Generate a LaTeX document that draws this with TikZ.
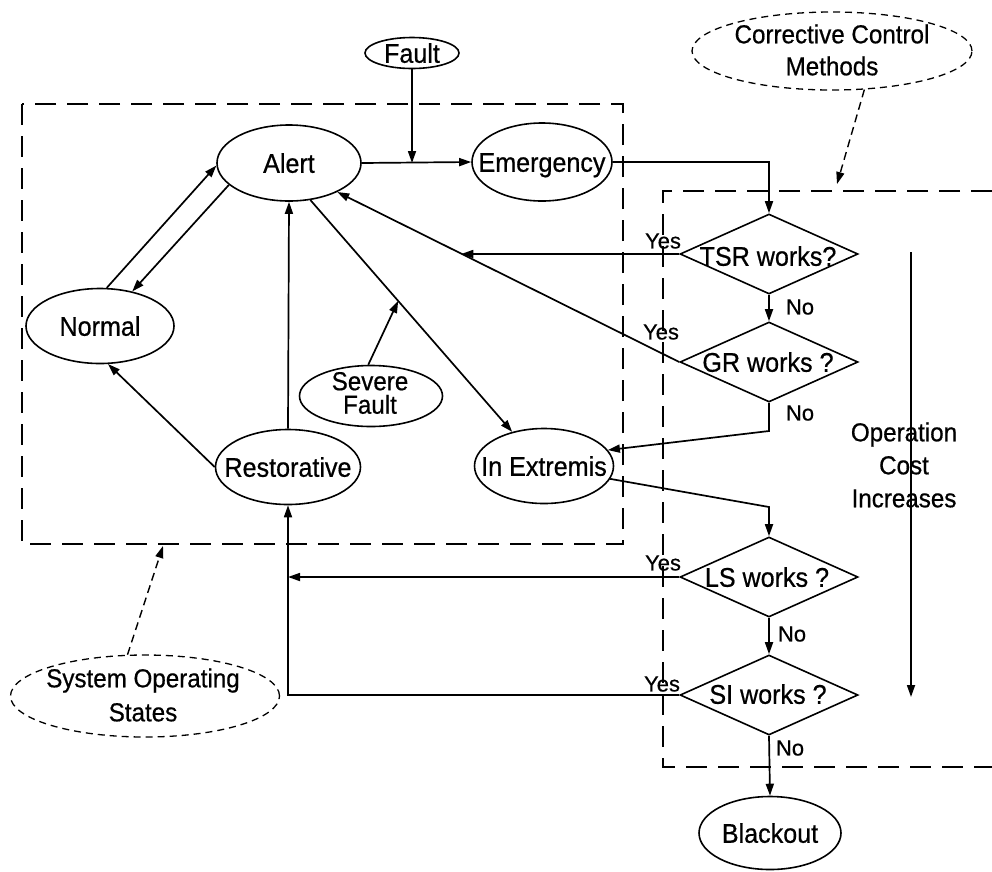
\documentclass[tikz,border=0pt]{standalone}
\usepackage{fontspec}
\setmainfont{Liberation Sans}[FakeStretch=0.93,FakeBold=0.6]
\newfontfamily\lblfont{Liberation Sans}[FakeBold=0.5]
\usetikzlibrary{shapes.geometric,arrows.meta,calc}
\begin{document}
\begin{tikzpicture}[x=1pt,y=-1pt,
  every node/.style={font=\fontsize{27}{30}\selectfont},
  every label/.style={text height=19.5pt,text depth=0pt,inner sep=0pt},
  stell/.style={ellipse,draw,line width=1.6pt,inner sep=0pt},
  dell/.style={ellipse,draw,line width=1.3pt,dash pattern=on 7pt off 5pt,inner sep=0pt},
  dec/.style={diamond,draw,line width=1.6pt,inner sep=0pt,minimum width=178pt,minimum height=80pt},
  dtext/.style={text height=19.5pt,text depth=0pt,inner sep=0pt},
  conn/.style={line width=1.7pt,-{Triangle[length=12pt,width=8pt]}},
  dbox/.style={line width=2.2pt,dash pattern=on 21pt off 11pt},
  darr/.style={line width=1.4pt,dash pattern=on 8pt off 5pt,-{Triangle[length=12pt,width=8pt]}},
  lbl/.style={font=\lblfont\fontsize{22}{24}\selectfont,inner sep=0pt},
  multi/.style={align=center,inner sep=0pt},
]
\useasboundingbox (0,0) rectangle (992,871);

% dashed group boxes
\draw[dbox] (22,104) rectangle (623,544);
\draw[dbox] (992,191) -- (663,191) -- (663,767) -- (992,767);

% state ellipses
\node[stell,minimum width=94pt,minimum height=31pt,label=center:{Fault}] (fault) at (412,53) {};
\node[stell,minimum width=144pt,minimum height=76pt,label=center:{Alert}] (alert) at (289,163) {};
\node[stell,minimum width=140pt,minimum height=78pt,label=center:{Emergency}] (emergency) at (542,162) {};
\node[stell,minimum width=148pt,minimum height=75pt,label=center:{Normal}] (normal) at (100,326) {};
\node[stell,minimum width=143pt,minimum height=61pt] (severe) at (371,396) {};
\node[multi,font=\fontsize{26}{23.5}\selectfont] (severet) at (370,393) {Severe\\Fault};
\node[stell,minimum width=145pt,minimum height=75pt,label=center:{Restorative}] (restorative) at (288,467) {};
\node[stell,minimum width=139pt,minimum height=75pt,label=center:{In Extremis}] (inext) at (544,466) {};
\node[stell,minimum width=142pt,minimum height=73pt,label=center:{Blackout}] (blackout) at (770,833) {};

% annotation ellipses
\node[dell,minimum width=280pt,minimum height=78pt] (ccm) at (832,51) {};
\node[multi,font=\fontsize{26}{32}\selectfont] (ccmt) at (832,50) {Corrective Control\\Methods};
\node[dell,minimum width=269pt,minimum height=82pt] (sos) at (145,696) {};
\node[multi,font=\fontsize{26}{34}\selectfont] (sost) at (143,695) {System Operating\\States};

% decisions
\node[dec] (tsr) at (769,254) {};
\node[dtext] (tsrt) at (768,256) {TSR works?};
\node[dec] (gr) at (769,362) {};
\node[dtext] (grt) at (768,362) {GR works ?};
\node[dec] (ls) at (769,577) {};
\node[dtext] (lst) at (767,577) {LS works ?};
\node[dec] (si) at (769,695) {};
\node[dtext] (sit) at (768,694) {SI works ?};

% Yes / No labels
\node[lbl] (y1) at (663,241) {Yes};
\node[lbl] (y2) at (661,332) {Yes};
\node[lbl] (y3) at (663,563) {Yes};
\node[lbl] (y4) at (662,684) {Yes};
\node[lbl] (n1) at (800,307) {No};
\node[lbl] (n2) at (800,413) {No};
\node[lbl] (n3) at (792,634) {No};
\node[lbl] (n4) at (790,748) {No};

% operation cost
\node[multi,font=\fontsize{26}{33}\selectfont] (opc) at (904,465) {Operation\\Cost\\Increases};
\coordinate (oc1) at (911,252);
\coordinate (oc2) at (911,697);
\draw[conn] (oc1) -- (oc2);

% connectors inside state box
\draw[conn] (normal.80) -- (alert.182);
\draw[conn] (alert.200) -- (normal.47);
\draw[conn] (restorative.north) -- (alert.south);
\draw[conn] (restorative.west) -- (normal.-78);
\draw[conn] (alert.east) -- (emergency.west);
\coordinate (fj) at (fault.south |- alert.east);
\draw[conn] (fault.south) -- (fj);
\draw[conn] (alert.-60) -- coordinate[pos=0.435] (sfj) (inext.133);
\draw[conn] (severe.95) -- (sfj);

% corrective control flow
\draw[conn] (emergency.east) -| (tsr.north);
\draw[conn] (gr.west) -- coordinate[pos=0.6375] (tj) (alert.-31);
\draw[conn] (tsr.west) -- (tsr.west -| tj);
\draw[conn] (tsr.south) -- (gr.north);
\coordinate (grb) at (769,431);
\draw[conn] (gr.south) -- (grb) -- (inext.14);
\coordinate (ieb) at (769,507);
\draw[conn] (inext.-11) -- (ieb) -- (ls.north);
\draw[conn] (ls.south) -- (si.north);
\draw[conn] (si.south) -- (blackout.north);
\draw[conn] (ls.west) -- (ls.west -| restorative.south);
\draw[conn] (si.west) -| (restorative.south);

% dashed pointers
\coordinate (ccmtip) at (837,184);
\draw[darr] (ccm.-50) -- (ccmtip);
\coordinate (sostip) at (163,546);
\draw[darr] (sos.113) -- (sostip);
\end{tikzpicture}
\end{document}
